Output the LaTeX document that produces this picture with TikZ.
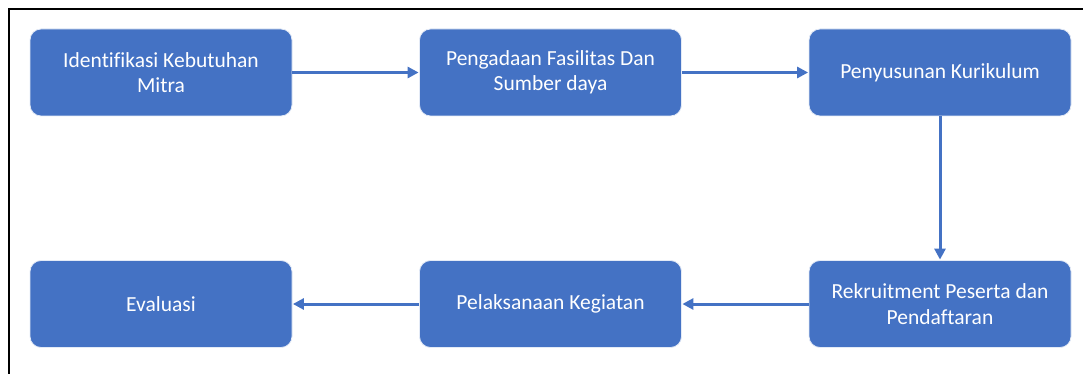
\documentclass[tikz,border=0pt]{standalone}
\usepackage{fontspec}
\setmainfont[RawFeature={-liga;-clig;-dlig;-calt}]{Carlito}
\usetikzlibrary{arrows.meta}
\definecolor{boxblue}{HTML}{4472C4}
\tikzset{
  stepbox/.style={draw=white!85!boxblue, line width=0.8pt, fill=boxblue, rounded corners=11pt,
    minimum width=262pt, minimum height=87pt, inner sep=0pt, text=white, align=center,
    font=\fontsize{21.5pt}{25.5pt}\selectfont},
  flow/.style={draw=boxblue, line width=3pt, -{Triangle[length=11pt,width=11pt]}, shorten >=0.5pt}
}
\begin{document}
\begin{tikzpicture}[x=1pt,y=-1pt]
\useasboundingbox (0,0) rectangle (1083,374);
\draw[line width=2pt] (1083,9) -- (9,9) -- (9,374);
\node[stepbox] (a) at (161,72.5) {Identifikasi Kebutuhan\\Mitra};
\node[stepbox] (b) at (550.5,72.5) {Pengadaan Fasilitas Dan\\Sumber daya};
\node[stepbox] (c) at (940,72.5) {Penyusunan Kurikulum};
\node[stepbox] (d) at (940,304) {Rekruitment Peserta dan\\Pendaftaran};
\node[stepbox] (e) at (550.5,304) {Pelaksanaan Kegiatan};
\node[stepbox] (f) at (161,304) {Evaluasi};
\draw[flow] (a) -- (b);
\draw[flow] (b) -- (c);
\draw[flow] (c) -- (d);
\draw[flow] (d) -- (e);
\draw[flow] (e) -- (f);
\end{tikzpicture}
\end{document}
